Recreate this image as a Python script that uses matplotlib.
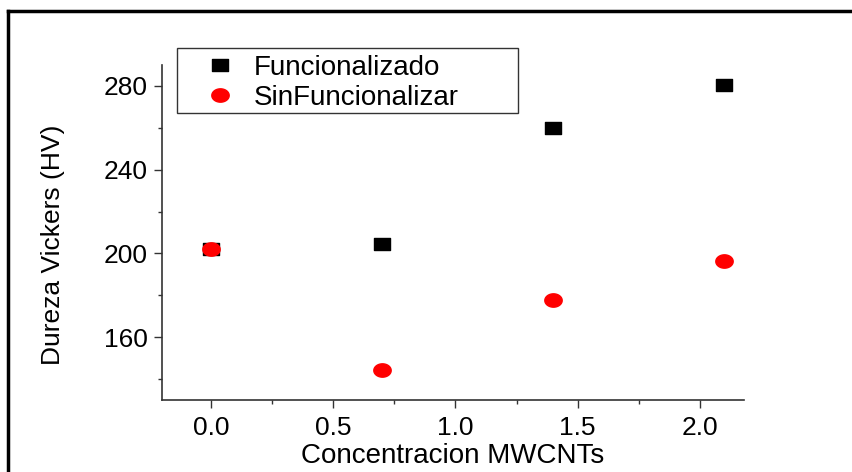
import matplotlib
matplotlib.use("Agg")
import matplotlib.pyplot as plt
from matplotlib.lines import Line2D
from matplotlib.patches import Rectangle
from matplotlib.path import Path
import numpy as np

plt.rcParams['font.family'] = ['Liberation Sans', 'DejaVu Sans']

concentration = [0.0, 0.7, 1.4, 2.1]
funcionalizado = [202, 204.5, 260, 280.5]
sin_funcionalizar = [202, 144.5, 178, 196.5]
series_labels = ["Funcionalizado", "SinFuncionalizar"]
x_ticks = [0.0, 0.5, 1.0, 1.5, 2.0]
y_ticks = [160, 200, 240, 280]

# wide square / wide ellipse markers (reference is horizontally stretched)
sq_verts = [(-0.68, -0.5), (0.68, -0.5), (0.68, 0.5), (-0.68, 0.5), (-0.68, -0.5)]
wide_square = Path(sq_verts, [Path.MOVETO, Path.LINETO, Path.LINETO, Path.LINETO, Path.CLOSEPOLY])
t = np.linspace(0, 2 * np.pi, 60)
wide_circle = Path(np.column_stack([0.65 * np.cos(t), 0.5 * np.sin(t)]), closed=True)

fig = plt.figure(figsize=(8.53, 4.72), dpi=100)
ax = fig.add_axes([162 / 853, 72 / 472, 582 / 853, 335 / 472])

ax.plot(concentration, funcionalizado, linestyle='none', marker=wide_square,
        markersize=11, color='black', label=series_labels[0])
ax.plot(concentration, sin_funcionalizar, linestyle='none', marker=wide_circle,
        markersize=12.5, color='#ff0000', label=series_labels[1])

ax.set_xlim(-0.2, 2.18)
ax.set_ylim(130, 290)
ax.set_xticks(x_ticks)
ax.set_xticklabels([f"{v:.1f}" for v in x_ticks])
ax.set_yticks(y_ticks)
ax.set_xticks([0.25, 0.75, 1.25, 1.75], minor=True)
ax.set_yticks([140, 180, 220, 260], minor=True)

for side in ['top', 'right']:
    ax.spines[side].set_visible(False)
for side in ['left', 'bottom']:
    ax.spines[side].set_linewidth(1.2)
    ax.spines[side].set_color('#333333')

ax.tick_params(which='major', direction='out', length=5.5, width=1, color='#333333',
               labelsize=19)
ax.tick_params(axis='y', which='major', pad=5)
ax.tick_params(axis='x', which='major', pad=6)
ax.tick_params(which='minor', direction='out', length=3, width=1, color='#333333')

ax.set_xlabel("Concentracion MWCNTs", fontsize=20, labelpad=2)
ax.set_ylabel("Dureza Vickers (HV)", fontsize=19)
ax.yaxis.set_label_coords(-0.166, 0.463)

leg = ax.legend(loc='upper left', bbox_to_anchor=((202 - 162) / 582, (400 - 55) / 335),
                fontsize=20, frameon=False,
                handletextpad=0.55, borderpad=0, labelspacing=0.15,
                handlelength=1.3, borderaxespad=0)

# legend box
ax.add_patch(Rectangle(((177 - 162) / 582, (400 - 113) / 335), (518 - 177) / 582, 65 / 335,
                       transform=ax.transAxes, fill=False, edgecolor='#333333',
                       linewidth=1.0, clip_on=False, zorder=5))

# outer frame lines (left and top)
fig.add_artist(Line2D([8 / 853, 8 / 853], [0, 1 - 11 / 472], color='black', linewidth=2.5,
                      transform=fig.transFigure))
fig.add_artist(Line2D([8 / 853, 1], [1 - 11 / 472, 1 - 11 / 472], color='black', linewidth=2.5,
                      transform=fig.transFigure))

fig.savefig("out.png", dpi=100)
